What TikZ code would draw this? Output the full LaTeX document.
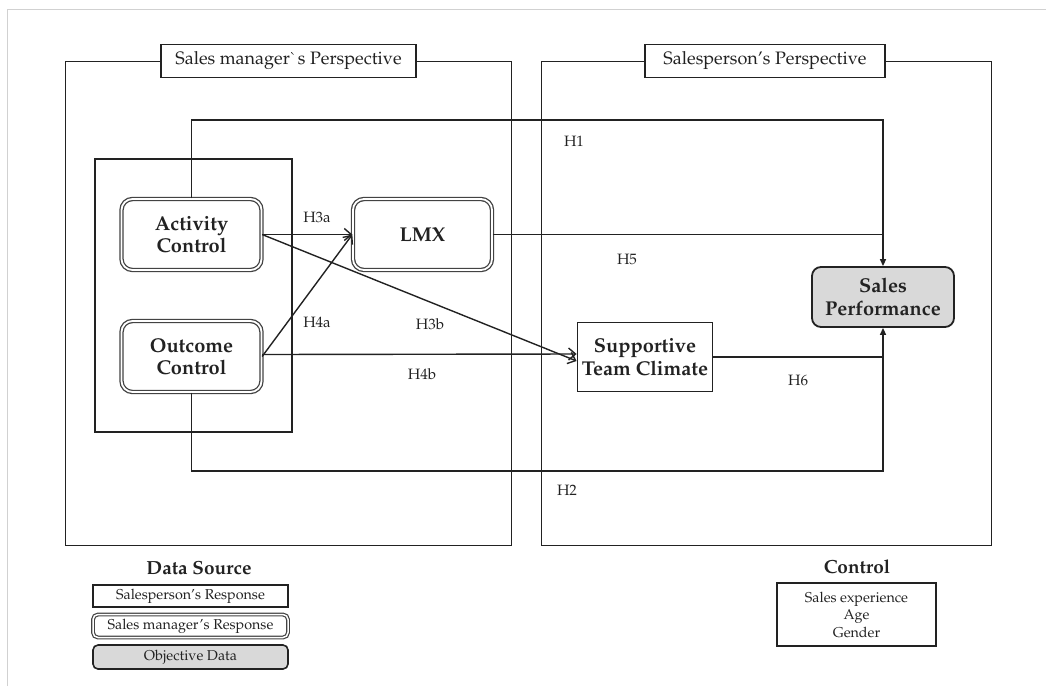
\documentclass[tikz,border=0pt]{standalone}
\usepackage[T1]{fontenc}
\usepackage{mathpazo}
\usetikzlibrary{arrows.meta}
\definecolor{ink}{HTML}{222222}
\definecolor{spgray}{HTML}{D9D9D9}
\begin{document}
\begin{tikzpicture}[x=1pt,y=-1pt,
  every node/.style={text=ink},
  persp/.style={draw=ink, line width=1pt},
  hdr/.style={draw=ink, fill=white, line width=1.6pt, minimum height=33pt, inner sep=0pt, font=\fontsize{18}{21}\selectfont},
  plain/.style={draw=ink, line width=1.8pt, fill=white, align=center, inner sep=0pt, font=\fontsize{20}{22.5}\selectfont\bfseries},
  mgr/.style={draw=ink!85, double=white, double distance=1.8pt, line width=1.3pt, rounded corners=11pt, fill=white, align=center, inner sep=0pt, font=\fontsize{20}{22.5}\selectfont\bfseries},
  obj/.style={draw=ink, line width=1.8pt, rounded corners=9pt, fill=spgray, align=center, inner sep=0pt, font=\fontsize{20}{22.5}\selectfont\bfseries},
  conn/.style={draw=ink, line width=1.4pt},
  barb/.style={conn, -{Straight Barb[length=7pt,width=12pt,line width=1.4pt]}},
  tri/.style={conn, -{Triangle[length=7pt,width=6pt]}},
  hyp/.style={font=\fontsize{15}{17}\selectfont},
  leg/.style={font=\fontsize{14.3}{16}\selectfont, inner sep=0pt, minimum width=195pt},
  legh/.style={font=\fontsize{19}{22}\selectfont\bfseries}
]
\useasboundingbox (0,0) rectangle (1046,686);
% outer light frame
\draw[black!18, line width=1pt] (7,686) -- (7,9) -- (1046,9);

% perspective boxes
\draw[persp] (65,61) rectangle (511,545);
\draw[persp] (541,61) rectangle (991,545);
\node[hdr, minimum width=255pt] (hdrL) at (288.5,61) {Sales manager\textasciigrave s Perspective};
\node[hdr, minimum width=240pt] (hdrR) at (765,61) {Salesperson's Perspective};

% inner group box
\draw[draw=ink, line width=1.8pt] (95,159) rectangle (292,432);

% nodes
\node[mgr, minimum width=140pt, minimum height=71pt] (AC) at (191.5,234.5) {Activity\\Control};
\node[mgr, minimum width=140pt, minimum height=71pt] (OC) at (191.5,356.5) {Outcome\\Control};
\node[mgr, minimum width=139pt, minimum height=71pt] (LMX) at (422.5,234.5) {LMX};
\node[plain, minimum width=135pt, minimum height=69pt] (STC) at (645,357) {Supportive\\Team Climate};
\node[obj, minimum width=142pt, minimum height=60pt] (SP) at (883,297) {Sales\\Performance};

% corner coordinates for H1 and H2
\coordinate (t1) at (883,120);
\coordinate (t2) at (883,471);

% connectors
\draw[tri] (AC.north) |- (t1) -- (SP.north);
\draw[tri] (OC.south) |- (t2) -- (SP.south);
\draw[conn] (LMX.east) -- (LMX.east -| SP.north);
\draw[conn] (STC.east) -- (STC.east -| SP.north);
\draw[barb] (AC.east) -- (LMX.west);
\draw[barb] (OC.east) -- (LMX.west);
\draw[barb] (AC.east) -- ([yshift=-4pt]STC.west);
\draw[barb] ([yshift=2pt]OC.east) -- ([yshift=3pt]STC.west);

% hypothesis labels
\node[hyp] (lH3a) at (317,217) {H3a};
\node[hyp] (lH4a) at (317,322) {H4a};
\node[hyp] (lH3b) at (430,324) {H3b};
\node[hyp] (lH4b) at (422,374) {H4b};
\node[hyp] (lH1) at (574,141) {H1};
\node[hyp] (lH5) at (627,259) {H5};
\node[hyp] (lH6) at (798,380) {H6};
\node[hyp] (lH2) at (567,490) {H2};

% legend: data source
\node[legh] (ds) at (199,568) {Data Source};
\node[leg, draw=ink, line width=1.6pt, minimum height=22pt, fill=white] (l1) at (190.5,596) {Salesperson's Response};
\node[leg, draw=ink!85, double=white, double distance=1.5pt, line width=1.2pt, rounded corners=5pt, minimum height=23pt] (l2) at (190.5,626) {Sales manager's Response};
\node[leg, draw=ink, line width=1.6pt, rounded corners=5pt, fill=spgray, minimum height=24pt] (l3) at (190.5,657) {Objective Data};

% legend: control
\node[legh] (ctl) at (857,567) {Control};
\node[draw=ink, line width=1.6pt, minimum width=159pt, minimum height=63pt, align=center, inner sep=0pt, font=\fontsize{14.3}{17.5}\selectfont] (cbox) at (856.5,614.5) {Sales experience\\Age\\Gender};
\end{tikzpicture}
\end{document}
